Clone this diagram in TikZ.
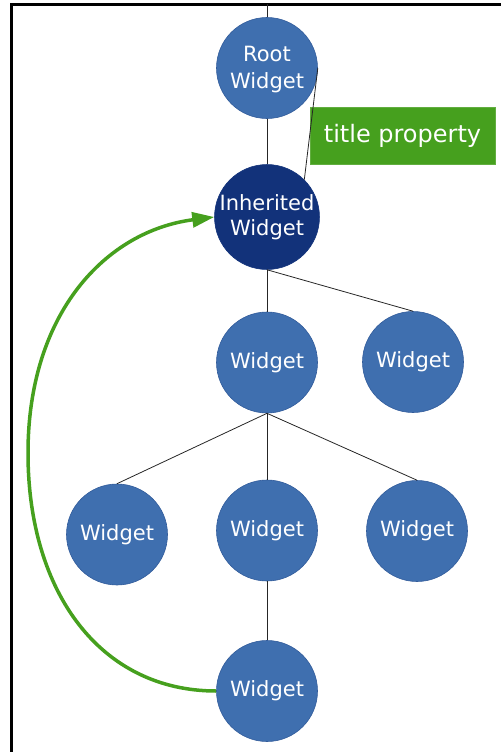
\documentclass[tikz,border=0pt]{standalone}
\usepackage{fontspec}
\setmainfont{DejaVu Sans}
\usetikzlibrary{arrows.meta}
\definecolor{wblue}{RGB}{63,111,175}
\definecolor{wborder}{RGB}{50,92,155}
\definecolor{wnavy}{RGB}{18,50,122}
\definecolor{wgreen}{RGB}{70,160,30}
\begin{document}
\begin{tikzpicture}[x=1pt,y=-1pt,
  wnode/.style={circle,minimum size=101pt,inner sep=0pt,fill=wblue,draw=wborder,line width=0.6pt,
    text=white,font=\fontsize{21}{25}\selectfont,align=center},
  navynode/.style={wnode,fill=wnavy,draw=wnavy},
  rootlabel/.style={inner sep=0pt,text=white,font=\fontsize{21}{26.5}\selectfont,align=center},
  labelbox/.style={rectangle,fill=wgreen,draw=wgreen!85!white,line width=0.6pt,minimum width=185pt,minimum height=57pt,
    inner sep=0pt,text=white,font=\fontsize{24}{28}\selectfont},
  edge/.style={draw=black!85,line width=0.8pt},
  garrow/.style={draw=wgreen,line width=3.5pt,-{Triangle[length=22pt,width=15pt]}},
  frameline/.style={draw=black,line width=2.5pt}]
\useasboundingbox (0,0) rectangle (501,752);
\coordinate (fa) at (11.5,752);
\coordinate (fb) at (11.5,4.3);
\coordinate (fc) at (501,4.3);
\draw[frameline] (fa) -- (fb) -- (fc);
\coordinate (topin) at (267,4.3);

\node[wnode] (root) at (267,68) {};
\node[rootlabel] (rootlbl) at (267,69.5) {Root\\Widget};
\node[navynode] (inh) at (267,217) {Inherited\\Widget};
\node[labelbox] (title) at (402.5,135.5) {title property};
\node[wnode] (w2l) at (267,362.5) {Widget};
\node[wnode] (w2r) at (413,362) {Widget};
\node[wnode] (w3l) at (117,534.5) {Widget};
\node[wnode] (w3m) at (267,530.5) {Widget};
\node[wnode] (w3r) at (417,531) {Widget};
\node[wnode] (bot) at (267,691) {Widget};

\draw[edge] (topin) -- (root.north);
\draw[edge] (root.south) -- (inh.north);
\draw[edge] (root.east) -- (inh.45);
\draw[edge] (inh.south) -- (w2l.north);
\draw[edge] (inh.south) -- (w2r.north);
\draw[edge] (w2l.south) -- (w3l.north);
\draw[edge] (w2l.south) -- (w3m.north);
\draw[edge] (w2l.south) -- (w3r.north);
\draw[edge] (w3m.south) -- (bot.north);

\coordinate (gmid) at (28,453);
\draw[garrow] (bot.west) .. controls (101,691) and (28,593) .. (gmid)
  .. controls (28,313) and (106,231) .. (inh.west);
\end{tikzpicture}
\end{document}
